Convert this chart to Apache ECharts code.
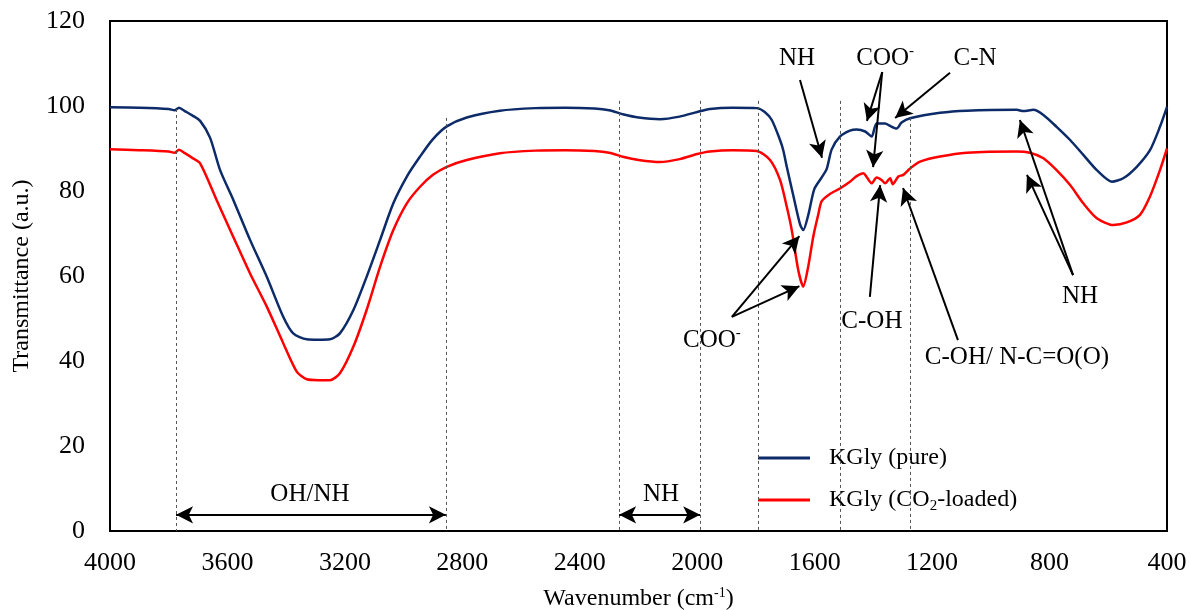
<!DOCTYPE html>
<html>
<head>
<meta charset="utf-8">
<title>KGly FTIR</title>
<script src="https://cdn.jsdelivr.net/npm/echarts@6/dist/echarts.min.js"></script>
<style>
  html, body { margin: 0; padding: 0; background: #fff; }
  #chart { width: 1190px; height: 610px; }
</style>
</head>
<body>
<div id="chart"></div>
<script>
// wavenumber (cm-1), transmittance (a.u.)
const pure = [
  [4000, 99.7], [3900, 99.6], [3800, 99.3], [3780, 99.0], [3765, 99.6], [3745, 98.8],
  [3720, 97.8], [3693, 96.5], [3659, 92.5], [3625, 84.9], [3580, 77.9], [3523, 68.5],
  [3466, 59.8], [3410, 50.4], [3376, 46.5], [3330, 45.1], [3290, 45.0], [3251, 45.1],
  [3217, 46.5], [3171, 52.0], [3126, 59.8], [3080, 68.5], [3035, 77.1], [2989, 83.4],
  [2944, 88.1], [2900, 92.2], [2853, 95.2], [2785, 97.3], [2672, 98.9], [2550, 99.5],
  [2450, 99.6], [2350, 99.4], [2300, 99.0], [2250, 98.0], [2200, 97.3], [2127, 96.9],
  [2060, 97.5], [2000, 98.6], [1957, 99.3], [1880, 99.6], [1797, 99.5], [1770, 98.6],
  [1746, 96.7], [1718, 92.0], [1707, 89.6], [1695, 85.7], [1673, 79.0], [1650, 72.2],
  [1639, 70.8], [1622, 74.3], [1601, 80.5], [1576, 83.2], [1559, 85.2], [1542, 89.8],
  [1514, 92.8], [1480, 94.2], [1457, 94.5], [1428, 94.0], [1406, 92.8], [1389, 95.9],
  [1360, 95.9], [1343, 95.3], [1321, 94.7], [1304, 96.1], [1275, 97.1], [1173, 98.4],
  [1082, 98.9], [912, 99.1], [889, 98.8], [855, 99.1], [821, 97.9], [776, 95.1],
  [730, 92.0], [685, 88.5], [639, 84.9], [588, 82.2], [549, 83.0], [503, 85.7],
  [458, 89.6], [424, 95.1], [400, 99.8]
];
const loaded = [
  [4000, 89.8], [3900, 89.6], [3800, 89.3], [3780, 89.0], [3765, 89.7], [3745, 88.9],
  [3720, 87.8], [3693, 86.5], [3637, 77.9], [3580, 69.2], [3523, 60.6], [3466, 52.8],
  [3410, 44.2], [3364, 37.5], [3330, 35.7], [3290, 35.5], [3251, 35.5], [3217, 37.1],
  [3171, 43.4], [3126, 52.0], [3080, 62.2], [3035, 70.8], [2989, 77.1], [2944, 81.0],
  [2900, 83.8], [2853, 85.7], [2785, 87.3], [2672, 88.9], [2550, 89.5], [2450, 89.6],
  [2350, 89.4], [2300, 89.0], [2250, 88.0], [2200, 87.3], [2127, 86.8], [2060, 87.5],
  [2000, 88.7], [1957, 89.3], [1880, 89.6], [1797, 89.4], [1752, 87.3], [1718, 82.6],
  [1695, 76.3], [1678, 70.8], [1656, 61.4], [1639, 57.5], [1622, 62.2], [1605, 69.2],
  [1588, 74.4], [1576, 77.6], [1548, 79.3], [1514, 80.6], [1480, 82.2], [1457, 83.5],
  [1434, 84.2], [1423, 83.3], [1406, 81.8], [1389, 83.2], [1372, 82.6], [1360, 81.8],
  [1343, 83.0], [1334, 81.6], [1315, 83.4], [1298, 83.8], [1275, 85.3], [1241, 86.9],
  [1173, 88.1], [1082, 89.0], [912, 89.3], [867, 89.0], [821, 87.7], [776, 84.9],
  [730, 81.4], [685, 77.1], [639, 73.6], [583, 72.0], [537, 72.6], [492, 74.4],
  [458, 78.7], [424, 84.9], [400, 90.0]
];
const seriesNames = ['KGly (pure)', 'KGly (CO2-loaded)'];
const xTicks = { min: 400, max: 4000, step: 400 };
const yTicks = { min: 0, max: 120, step: 20 };

// dotted region boundaries: [wavenumber, top value]
const regionLines = [[3775, 99.3], [2856, 97.2], [2266, 101.2], [1990, 101.2], [1793, 101.2], [1514, 101.2], [1275, 97.2]];
// single arrows: [from wn, from val, to wn, to val]
const arrows = [
  [1650, 106.1, 1575, 87.8],
  [1370, 108.0, 1422, 96.5],
  [1370, 108.0, 1401, 85.6],
  [1139, 107.8, 1326, 97.2],
  [1412, 55.1, 1377, 81.4],
  [1112, 44.9, 1299, 80.7],
  [720, 60.2, 901, 96.7],
  [720, 60.2, 877, 83.8],
  [1882, 50.4, 1652, 69.4],
  [1882, 50.4, 1652, 57.6]
];
// double arrows under the region labels: [wn1, wn2, val]
const spans = [[3775, 2856, 3.8], [2266, 1990, 3.8]];
// labels: [wn, val, text]
const notes = [
  [1660, 111.3, 'NH'],
  [1360, 111.3, '{t|COO}{p|-}'],
  [1054, 111.3, 'C-N'],
  [1405, 49.2, 'C-OH'],
  [911, 40.9, 'C-OH/ N-C=O(O)'],
  [696, 55.3, 'NH'],
  [1950, 44.9, '{t|COO}{p|-}'],
  [3319, 8.7, 'OH/NH'],
  [2123, 8.7, 'NH']
];

const serif = '"Liberation Serif", "Times New Roman", serif';
const rich = {
  t: { fontFamily: serif, fontSize: 25, color: '#000' },
  p: { fontFamily: serif, fontSize: 15, color: '#000', verticalAlign: 'top', padding: [0, 0, 14, 0] }
};

const markLines = [];
regionLines.forEach(r => {
  markLines.push([
    { coord: [r[0], r[1]], symbol: 'none', lineStyle: { type: [3, 3], color: '#555', width: 1 } },
    { coord: [r[0], 0], symbol: 'none' }
  ]);
});
arrows.forEach(a => {
  markLines.push([
    { coord: [a[0], a[1]], symbol: 'none', lineStyle: { color: '#000', width: 2, type: 'solid' } },
    { coord: [a[2], a[3]], symbol: 'arrow', symbolSize: [13, 17] }
  ]);
});
spans.forEach(s => {
  markLines.push([
    { coord: [s[0], s[2]], symbol: 'arrow', symbolSize: [13, 17], lineStyle: { color: '#000', width: 2, type: 'solid' } },
    { coord: [s[1], s[2]], symbol: 'arrow', symbolSize: [13, 17] }
  ]);
});

const markPoints = notes.map(n => ({
  coord: [n[0], n[1]],
  symbol: 'circle',
  symbolSize: 0,
  label: {
    show: true,
    position: 'inside',
    formatter: n[2].indexOf('{') === 0 ? n[2] : '{t|' + n[2] + '}',
    rich: rich
  }
}));

const chart = echarts.init(document.getElementById('chart'));
chart.setOption({
  animation: false,
  backgroundColor: '#fff',
  grid: {
    left: 110, right: 23, top: 21, bottom: 79,
    containLabel: false, outerBoundsMode: 'none',
    show: true, borderColor: '#000', borderWidth: 2
  },
  legend: {
    data: seriesNames,
    orient: 'vertical',
    left: 758,
    top: 444,
    itemWidth: 52,
    itemHeight: 14,
    itemGap: 18,
    padding: [2, 12, 4, 0],
    backgroundColor: '#fff',
    icon: 'path://M0,6 L52,6 L52,9 L0,9 Z',
    formatter: name => name === seriesNames[1]
      ? '{t|KGly (CO}{b|2}{t|-loaded)}'
      : '{t|' + name + '}',
    textStyle: {
      padding: [0, 0, 0, 14],
      rich: {
        t: { fontFamily: serif, fontSize: 24, color: '#000' },
        b: { fontFamily: serif, fontSize: 15, color: '#000', verticalAlign: 'bottom', padding: [12, 0, 0, 0] }
      }
    }
  },
  xAxis: {
    type: 'value',
    inverse: true,
    min: xTicks.min,
    max: xTicks.max,
    interval: xTicks.step,
    splitLine: { show: false },
    axisTick: { show: false },
    axisLine: { lineStyle: { color: '#000', width: 2 } },
    axisLabel: { fontFamily: serif, fontSize: 26, color: '#000', margin: 19, formatter: v => String(v) },
    name: '{t|Wavenumber (cm}{p|-1}{t|)}',
    nameLocation: 'middle',
    nameGap: 55,
    nameTextStyle: {
      rich: {
        t: { fontFamily: serif, fontSize: 24, color: '#000' },
        p: { fontFamily: serif, fontSize: 14, color: '#000', verticalAlign: 'top', padding: [0, 0, 12, 0] }
      }
    }
  },
  yAxis: {
    type: 'value',
    min: yTicks.min,
    max: yTicks.max,
    interval: yTicks.step,
    splitLine: { show: false },
    axisTick: { show: false },
    axisLine: { show: true, lineStyle: { color: '#000', width: 2 } },
    axisLabel: { fontFamily: serif, fontSize: 26, color: '#000', margin: 25, formatter: v => String(v) },
    name: 'Transmittance (a.u.)',
    nameLocation: 'middle',
    nameGap: 76,
    nameRotate: 90,
    nameTextStyle: { fontFamily: serif, fontSize: 24, color: '#000' }
  },
  series: [
    {
      name: seriesNames[0],
      type: 'line',
      data: pure,
      showSymbol: false,
      smooth: 0.25,
      color: '#0c2b68',
      lineStyle: { width: 2.5, color: '#0c2b68' },
      z: 3
    },
    {
      name: seriesNames[1],
      type: 'line',
      data: loaded,
      showSymbol: false,
      smooth: 0.25,
      color: '#ff0000',
      lineStyle: { width: 2.5, color: '#ff0000' },
      z: 2,
      markLine: { silent: true, animation: false, label: { show: false }, data: markLines },
      markPoint: { silent: true, animation: false, data: markPoints }
    }
  ]
});
</script>
</body>
</html>
